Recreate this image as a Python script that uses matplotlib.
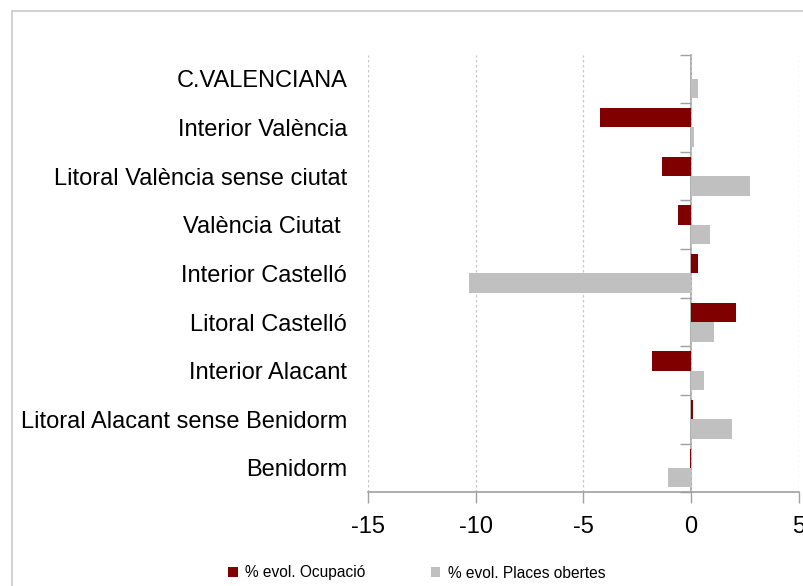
import numpy as np
import matplotlib.pyplot as plt
from matplotlib.patches import Rectangle, Patch

plt.rcParams['font.family'] = ['Liberation Sans', 'DejaVu Sans']

categories = ['C.VALENCIANA', 'Interior València', 'Litoral València sense ciutat',
              'València Ciutat ', 'Interior Castelló', 'Litoral Castelló',
              'Interior Alacant', 'Litoral Alacant sense Benidorm', 'Benidorm']
ocupacio = [0.0, -4.21, -1.33, -0.59, 0.31, 2.07, -1.80, 0.10, -0.05]
places = [0.31, 0.12, 2.72, 0.87, -10.32, 1.05, 0.59, 1.89, -1.05]
xticks = [-15, -10, -5, 0, 5]

red = '#800000'
grey = '#c0c0c0'

fig = plt.figure(figsize=(8.04, 5.86), dpi=100)
# outer chart frame (cropped on right / bottom)
fig.patches.append(Rectangle((12, -200), 900, 586 - 11 + 200, transform=None, fill=False,
                             edgecolor='#c8c8c8', linewidth=1.2))

ax = fig.add_axes([368 / 804, 1 - 492.3 / 586, (798.7 - 368) / 804, (492.3 - 54.5) / 586])

y = np.arange(len(categories))
h = 0.4
ax.barh(y - h / 2, ocupacio, height=h, color=red, label='% evol. Ocupació')
ax.barh(y + h / 2, places, height=h, color=grey, label='% evol. Places obertes')

ax.set_xlim(-15, 5)
ax.set_ylim(len(categories) - 0.5, -0.5)
ax.set_xticks(xticks)
ax.set_xticklabels([str(v) for v in xticks], fontsize=17)
ax.set_yticks(y)
ax.set_yticklabels(categories, fontsize=17)
ax.tick_params(axis='y', length=0, pad=15)
ax.tick_params(axis='x', length=8, width=1, color='#a0a0a0', pad=9)
ax.grid(axis='x', linestyle=(0, (2, 2)), color='#c8c8c8', linewidth=0.9)
ax.set_axisbelow(True)
for s in ['top', 'right', 'left']:
    ax.spines[s].set_visible(False)
ax.spines['bottom'].set_color('#a0a0a0')
ax.spines['bottom'].set_linewidth(1.2)

# category axis sitting at x = 0
sec = ax.secondary_yaxis((0 - (-15)) / 20)
sec.set_yticks(np.arange(len(categories) + 1) - 0.5)
sec.set_yticklabels([])
sec.tick_params(length=8, width=1, color='#a0a0a0', direction='in')
for s in sec.spines.values():
    s.set_color('#a0a0a0')
    s.set_linewidth(1.2)

handles = [Patch(facecolor=red), Patch(facecolor=grey)]
fig.legend(handles, ['% evol. Ocupació', '% evol. Places obertes'],
           loc='center', bbox_to_anchor=(417 / 804, 1 - 573 / 586), ncol=2,
           frameon=False, fontsize=11.2, handlelength=0.6, handleheight=0.6,
           handletextpad=0.5, columnspacing=4.2)

fig.savefig('out.png', dpi=100)
